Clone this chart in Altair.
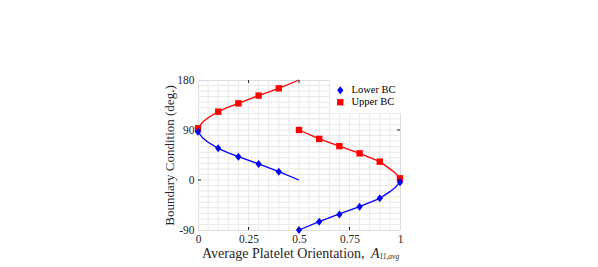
import altair as alt
import pandas as pd

# ---- data ----
# curve branches (A11_avg, boundary condition in degrees)
lower1_A = [0.0, 0.005, 0.01, 0.025, 0.05, 0.1, 0.15, 0.2, 0.3, 0.4, 0.5]
lower1_deg = [90, 85, 82, 75, 68, 57, 49, 42, 29, 15, 0]
upper1_A = [0.0, 0.005, 0.01, 0.025, 0.05, 0.1, 0.15, 0.2, 0.3, 0.4, 0.5]
upper1_deg = [90, 95, 98, 105, 112, 123, 131, 138, 152, 165, 180]
lower2_A = [0.5, 0.6, 0.7, 0.8, 0.9, 0.95, 0.975, 0.99, 0.997, 1.0]
lower2_deg = [-90, -75, -61, -48, -33, -21, -14, -8, -4, 0]
upper2_A = [0.5, 0.6, 0.7, 0.8, 0.9, 0.95, 0.975, 0.99, 0.997, 1.0]
upper2_deg = [90, 74, 61, 48, 33, 20, 13, 7, 3, 0]

# markers
marker_A = [0.0, 0.1, 0.2, 0.3, 0.4, 0.5, 0.6, 0.7, 0.8, 0.9, 1.0]
lower_marker_deg = [87, 57, 42, 29, 15, -90, -75, -62, -48, -33, -4]
upper_marker_deg = [93, 123, 138, 152, 165, 90, 74, 61, 48, 33, 3]

series_names = ["Lower BC", "Upper BC"]
series_colors = ["#0000ff", "#ff0000"]

# axis values
x_ticks = [0, 0.25, 0.5, 0.75, 1]
y_ticks = [-90, 0, 90, 180]
x_grid = [round(i * 0.05, 2) for i in range(1, 20)]
y_grid = list(range(-80, 180, 10))
x_major_inner = [0.25, 0.5, 0.75]
y_major_inner = [0, 90]
sub_title = ["A", "11,avg"]

# ---- build tables ----
rows = []
for name, col, br, A, D in [
    ("Upper BC", series_colors[1], "u1", upper1_A, upper1_deg),
    ("Upper BC", series_colors[1], "u2", upper2_A, upper2_deg),
    ("Lower BC", series_colors[0], "l1", lower1_A, lower1_deg),
    ("Lower BC", series_colors[0], "l2", lower2_A, lower2_deg),
]:
    for i, (a, d) in enumerate(zip(A, D)):
        rows.append({"A": a, "deg": d, "branch": br, "col": col, "idx": i})
lines_df = pd.DataFrame(rows)

mrows = []
for a, d in zip(marker_A, upper_marker_deg):
    mrows.append({"A": a, "deg": d, "series": "Upper BC", "ord": 0})
for a, d in zip(marker_A, lower_marker_deg):
    mrows.append({"A": a, "deg": d, "series": "Lower BC", "ord": 1})
markers_df = pd.DataFrame(mrows)

FONT = "Liberation Serif"
TXT = "#262626"
GRID = "#e8e8e8"

x_axis = alt.Axis(
    values=x_ticks,
    grid=False,
    ticks=False,
    domain=False,
    labelExpr="'' + datum.value",
    labelFont=FONT,
    labelFontSize=11.5,
    labelColor=TXT,
    labelPadding=3,
    labelFlush=False,
    labelOverlap=False,
    title="Average Platelet Orientation,",
    titleFont=FONT,
    titleFontSize=14,
    titleFontWeight="normal",
    titleColor=TXT,
    titleAlign="left",
    titleAnchor="start",
    titleX=3.5,
    titleY=27.5,
    titleBaseline="alphabetic",
)
y_axis = alt.Axis(
    values=y_ticks,
    grid=False,
    ticks=False,
    domain=False,
    labelExpr="'' + datum.value",
    labelFont=FONT,
    labelFontSize=11.5,
    labelColor=TXT,
    labelPadding=4,
    labelFlush=False,
    labelOverlap=False,
    title="Boundary Condition (deg.)",
    titleFont=FONT,
    titleFontSize=13,
    titleFontWeight="normal",
    titleColor=TXT,
    titleAngle=270,
    titleAlign="center",
    titleBaseline="middle",
    titleX=-29,
    titleY=75,
)
x_scale = alt.Scale(domain=[0, 1], nice=False, zero=False)
y_scale = alt.Scale(domain=[-90, 180], nice=False, zero=False)


def xe():
    return alt.X("A:Q", scale=x_scale, axis=x_axis)


def ye():
    return alt.Y("deg:Q", scale=y_scale, axis=y_axis)


# light grid drawn as rules at the minor positions
gx = alt.Chart(pd.DataFrame({"A": x_grid})).mark_rule(color=GRID, strokeWidth=1).encode(
    x=xe(), y=alt.value(0), y2=alt.value(150)
)
gy = alt.Chart(pd.DataFrame({"deg": y_grid})).mark_rule(color=GRID, strokeWidth=1).encode(
    y=ye(), x=alt.value(0), x2=alt.value(202)
)

lines = alt.Chart(lines_df).mark_line(strokeWidth=1.3).encode(
    x=xe(),
    y=ye(),
    detail="branch:N",
    order="idx:Q",
    color=alt.Color("col:N", scale=None),
)

diamond = "M0,-1L0.78,0L0,1L-0.78,0Z"
square = "M-0.8,-0.8L0.8,-0.8L0.8,0.8L-0.8,0.8Z"

points = alt.Chart(markers_df).mark_point(filled=True, opacity=1, size=64).encode(
    x=xe(),
    y=ye(),
    order="ord:Q",
    color=alt.Color(
        "series:N",
        scale=alt.Scale(domain=series_names, range=series_colors),
        legend=alt.Legend(
            title=None,
            orient="none",
            legendX=132,
            legendY=0,
            fillColor="white",
            padding=5,
            labelFont=FONT,
            labelFontSize=10.5,
            labelColor="black",
            symbolSize=64,
            rowPadding=1,
            labelOffset=6,
            symbolStrokeWidth=0,
        ),
    ),
    shape=alt.Shape(
        "series:N",
        scale=alt.Scale(domain=series_names, range=[diamond, square]),
    ),
)

# inward major ticks on all four sides
xt_df = pd.DataFrame({"A": x_major_inner})
yt_df = pd.DataFrame({"deg": y_major_inner})
tick_color = "#262626"
tb = alt.Chart(xt_df).mark_rule(color=tick_color, strokeWidth=1).encode(
    x=xe(), y=alt.value(150), y2=alt.value(147)
)
tt = alt.Chart(xt_df).mark_rule(color=tick_color, strokeWidth=1).encode(
    x=xe(), y=alt.value(0), y2=alt.value(3)
)
tl = alt.Chart(yt_df).mark_rule(color=tick_color, strokeWidth=1).encode(
    y=ye(), x=alt.value(0), x2=alt.value(3)
)
tr = alt.Chart(yt_df).mark_rule(color=tick_color, strokeWidth=1).encode(
    y=ye(), x=alt.value(202), x2=alt.value(199)
)

# italic symbol part of the x title
a_txt = alt.Chart(pd.DataFrame({"t": [sub_title[0]]})).mark_text(
    font=FONT, fontSize=14, fontStyle="italic", align="left", baseline="alphabetic", color=TXT
).encode(text="t:N", x=alt.value(173), y=alt.value(177.5))
sub_txt = alt.Chart(pd.DataFrame({"t": [sub_title[1]]})).mark_text(
    font=FONT, fontSize=7.5, fontStyle="italic", align="left", baseline="alphabetic", color=TXT
).encode(text="t:N", x=alt.value(181.5), y=alt.value(179))

chart = (
    alt.layer(gx, gy, lines, points, tb, tt, tl, tr, a_txt, sub_txt)
    .properties(
        width=202,
        height=150,
        autosize=alt.AutoSizeParams(type="none"),
        padding={"left": 190, "top": 72, "right": 190, "bottom": 33},
    )
    .configure_view(stroke="#262626", strokeWidth=1)
    .configure(background="white")
)

chart.save("out.html", embed_options={"renderer": "svg", "actions": False})
